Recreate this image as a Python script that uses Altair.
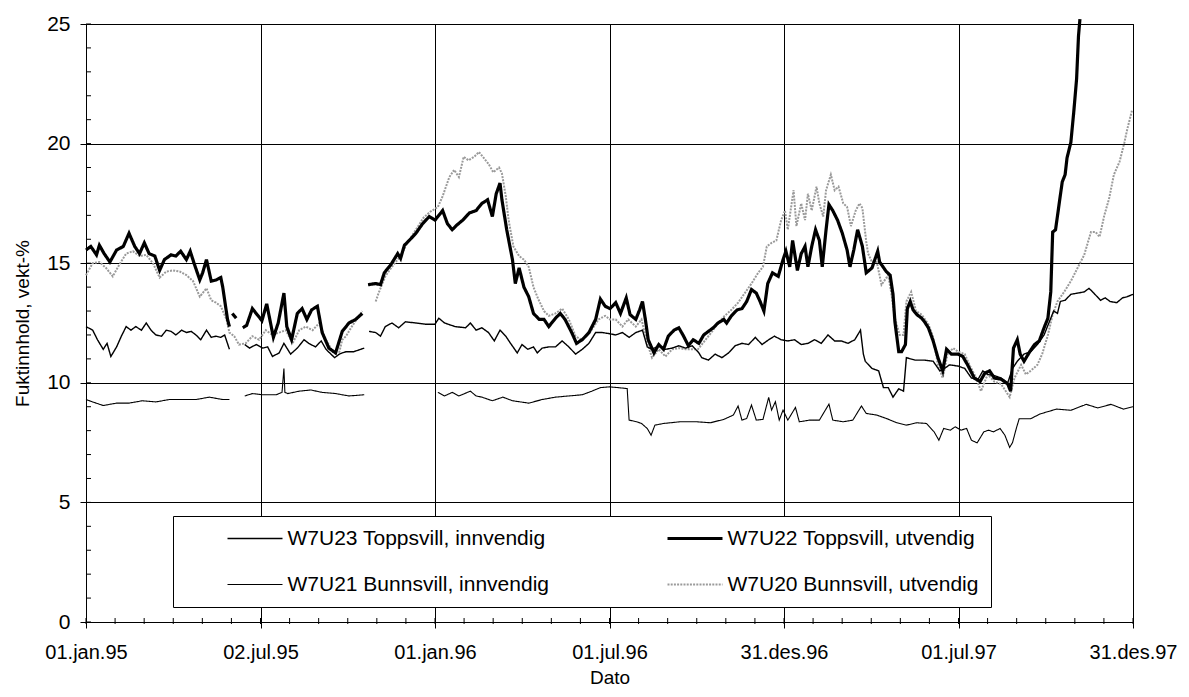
import json
import altair as alt
import pandas as pd

FONT = "Liberation Sans"
START = pd.Timestamp("1995-01-01", tz="UTC")

# ---------------- data (days after 01.jan.95, None = gap) ----------------
series_names = [
    "W7U23 Toppsvill, innvendig",
    "W7U22 Toppsvill, utvendig",
    "W7U21 Bunnsvill, innvendig",
    "W7U20 Bunnsvill, utvendig",
]

w7u22_days = [0, 5, 11, 14, 19, 25, 32, 39, 45, 51, 56, 61, 66, 72, 77, 82, 89, 94, 99, 105, 109, 113, 119, 122, 126,
              131, 136, 141, 143, 148, 150, 151,
              153, 157, 158,
              164, 168, 174, 179, 184, 189, 196, 201, 207, 210, 215, 221, 226, 231, 236, 242, 247, 254, 261, 268, 275,
              282, 289, 290,
              295, 303, 308, 312, 319, 326, 329, 333, 338, 345, 352, 359, 365, 373, 378, 383, 388, 394, 401, 408, 414,
              420, 425, 429, 433, 435, 440, 446, 449, 453, 458, 463, 468, 474, 479, 484, 491, 496, 501, 508, 513, 519,
              526, 533, 538, 543, 548, 554, 559, 565, 569, 575, 579, 582, 585, 588, 594, 599, 604, 609, 615, 620, 625,
              630, 635, 641, 646, 651, 656, 661, 667, 670, 675, 681, 686, 691, 696, 701, 705, 709, 713, 718, 724, 729,
              732, 736, 739, 744, 748, 752, 755, 759, 763, 767, 770, 774, 777, 781, 786, 791, 796, 799, 803, 807, 812,
              816, 822, 828, 830, 837, 841, 844, 846, 850, 853, 857, 859, 862, 865, 869, 874, 877, 881, 886, 891, 896,
              900, 905, 912, 917, 922, 929, 935, 940, 945, 950, 957, 964, 967, 970, 974, 977, 981, 987, 992, 997, 1002,
              1006, 1009, 1011, 1014, 1018, 1021, 1024, 1026, 1030, 1033, 1036, 1038, 1039.5]
w7u22_vals = [15.55, 15.7, 15.35, 15.75, 15.4, 15.05, 15.55, 15.7, 16.25, 15.7, 15.4, 15.85, 15.4, 15.3, 14.7, 15.15,
              15.35, 15.3, 15.5, 15.15, 15.5, 15.0, 14.3, 14.6, 15.15, 14.25, 14.3, 14.4, 14.0, 12.65, 12.35, None,
              12.9, 12.7, None,
              12.3, 12.4, 13.1, 12.85, 12.6, 13.3, 11.9, 12.5, 13.75, 12.35, 11.8, 12.9, 13.1, 12.65, 13.05, 13.2, 12.1,
              11.45, 11.25, 12.15, 12.5, 12.65, 12.9, None,
              14.1, 14.15, 14.1, 14.6, 14.95, 15.4, 15.2, 15.75, 15.95, 16.25, 16.65, 16.95, 16.8, 17.2, 16.65, 16.4,
              16.6, 16.8, 17.1, 17.2, 17.5, 17.65, 16.95, 17.9, 18.35, 17.65, 16.4, 15.15, 14.15, 14.8, 14.0, 13.6,
              12.9, 12.65, 12.65, 12.35, 12.7, 12.9, 12.65, 12.1, 11.65, 11.8, 12.1, 12.65, 13.5, 13.2, 13.1, 13.35,
              12.9, 13.55, 12.85, 12.65, 13.05, 13.4, 12.65, 11.8, 11.25, 11.6, 11.4, 11.95, 12.2, 12.3, 11.95, 11.55,
              11.8, 11.65, 12.0, 12.15, 12.3, 12.5, 12.65, 12.5, 12.8, 13.05, 13.1, 13.4, 13.9, 13.75, 13.4, 13.0,
              14.15, 14.6, 14.45, 15.15, 15.5, 14.85, 15.95, 14.7, 15.4, 15.7, 14.85, 15.7, 16.4, 15.95, 14.85, 16.4,
              17.45, 17.2, 16.8, 16.25, 15.55, 14.85, 15.55, 16.4, 15.7, 14.6, 14.8, 15.5, 15.05, 14.65, 14.5, 13.7,
              12.55, 11.3, 11.3, 11.6, 13.1, 13.4, 13.05, 12.85, 12.7, 12.55, 12.3, 11.75, 11.05, 10.5, 11.4, 11.2,
              11.2, 11.1, 10.75, 10.2, 10.05, 10.4, 10.5, 10.2, 10.15, 9.95, 9.65, 11.45, 11.8, 11.2, 10.9, 11.3,
              11.6, 11.75, 12.3, 12.7, 13.8, 16.3, 16.4, 17.55, 18.4, 18.7, 19.4, 20.05, 21.3, 22.7, 24.5, 25.2]

w7u20_days = [0, 7, 14, 21, 28, 35, 42, 49, 56, 63, 70, 77, 84, 91, 98, 105, 112, 119, 126, 131, 136, 141, 147, 150,
              155, 160, 167, 174, 181, 188, 195, 202, 209, 216, 223, 230, 237, 244, 251, 258, 265, 268, 272, 278, 289,
              290,
              303, 306, 313, 320, 329, 336, 345, 353, 360, 368, 373, 380, 385, 390, 395, 400, 406, 411, 416, 421, 426,
              432, 435, 439, 442, 447, 453, 458, 463, 468, 473, 479, 484, 491, 498, 505, 512, 518, 527, 536, 543, 548,
              554, 561, 567, 575, 581, 587, 592, 599, 606, 613, 620, 627, 634, 640, 647, 654, 661, 668, 675, 682, 689,
              696, 703, 708, 712, 717, 722, 727, 731, 734, 740, 743, 748, 752, 755, 759, 764, 767, 771, 774, 779, 783,
              787, 792, 796, 800, 805, 809, 812, 816, 818, 822, 827, 832, 839, 842, 846, 851, 855, 858, 863, 868, 874,
              881, 886, 891, 896, 901, 907, 912, 919, 924, 931, 936, 943, 950, 957, 966, 971, 978, 983, 988, 995, 1000,
              1006, 1011, 1016, 1023, 1030, 1037, 1044, 1051, 1056, 1060, 1065, 1070, 1075, 1081, 1086, 1089, 1094]
w7u20_vals = [14.5, 15.0, 15.05, 14.8, 14.45, 14.95, 15.4, 15.5, 15.3, 15.35, 15.0, 14.4, 14.65, 14.7, 14.65, 14.5,
              14.25, 13.6, 13.95, 13.45, 13.35, 13.2, 12.65, 12.1, 11.95, 11.6, 11.65, 11.95, 11.8, 12.2, 12.0, 12.1,
              12.2, 11.65, 12.2, 12.35, 12.2, 12.5, 11.8, 11.3, 11.3, 11.8, 11.95, 12.35, 13.0, None,
              13.4, 13.75, 14.45, 14.85, 15.3, 15.85, 16.4, 16.9, 17.15, 17.35, 17.8, 18.6, 18.9, 18.6, 19.45, 19.3,
              19.45, 19.65, 19.4, 19.15, 18.8, 19.0, 18.75, 17.8, 16.8, 15.7, 15.3, 15.15, 14.85, 14.0, 13.5, 13.0,
              12.8, 12.9, 13.1, 12.65, 11.95, 11.8, 12.1, 12.65, 12.8, 12.65, 12.65, 12.35, 12.65, 12.35, 12.65, 11.65,
              11.05, 11.4, 11.1, 11.4, 11.45, 11.4, 11.4, 11.4, 11.75, 12.1, 12.5, 12.8, 13.05, 13.35, 13.75, 14.15,
              14.6, 14.85, 15.7, 15.85, 15.95, 16.8, 17.2, 16.4, 18.05, 16.55, 17.5, 16.8, 17.9, 17.2, 18.2, 17.5,
              16.95, 18.05, 18.7, 18.05, 18.2, 17.5, 17.35, 16.55, 17.2, 17.5, 17.3, 15.9, 15.4, 15.05, 15.05, 14.1,
              14.5, 13.8, 12.7, 12.0, 12.0, 13.4, 13.8, 13.0, 12.85, 12.45, 11.9, 10.75, 10.2, 11.2, 11.45, 11.3, 11.2,
              10.75, 10.2, 9.65, 10.35, 10.05, 9.95, 9.4, 10.2, 10.75, 10.35, 10.5, 10.75, 11.2, 12.0, 12.85, 13.4,
              13.8, 14.25, 14.8, 15.35, 16.3, 16.3, 16.1, 17.0, 17.7, 18.7, 19.25, 20.05, 20.6, 21.4]

w7u23_days = [0, 7, 12, 18, 22, 26, 32, 37, 42, 47, 52, 58, 63, 68, 73, 79, 84, 89, 94, 100, 105, 110, 115, 120, 126,
              131, 136, 141, 145, 150, 151,
              166, 171, 178, 185, 190, 195, 202, 207, 214, 221, 228, 233, 240, 246, 251, 260, 265, 268, 272, 280, 291,
              292,
              296, 303, 308, 313, 320, 327, 334, 345, 355, 365, 369, 375, 386, 397, 402, 408, 414, 421, 427, 433, 439,
              444, 451, 456, 462, 468, 472, 477, 484, 491, 498, 505, 512, 519, 526, 533, 540, 548, 554, 561, 568, 575,
              582, 587, 592, 599, 606, 613, 620, 627, 634, 641, 644, 651, 658, 665, 672, 679, 686, 693, 700, 707, 714,
              720, 727, 734, 741, 748, 755, 762, 769, 776, 783, 790, 797, 804, 810, 813, 815, 822, 829, 834, 839, 844,
              850, 855, 858, 867, 877, 886, 893, 898, 903, 912, 919, 926, 933, 938, 943, 950, 957, 964, 969, 974, 981,
              988, 995, 1002, 1009, 1012, 1016, 1019, 1024, 1030, 1037, 1044, 1049, 1054, 1061, 1066, 1071, 1078, 1084,
              1089, 1095]
w7u23_vals = [12.35, 12.2, 11.8, 11.4, 11.65, 11.1, 11.5, 11.95, 12.35, 12.2, 12.35, 12.2, 12.5, 12.2, 12.0, 11.95,
              12.2, 12.15, 12.0, 12.2, 12.1, 12.15, 12.0, 11.8, 12.2, 11.9, 11.95, 11.9, 12.0, 11.4, None,
              11.6, 11.45, 11.6, 11.45, 11.5, 11.1, 11.25, 11.65, 11.2, 11.45, 11.8, 11.65, 11.5, 11.75, 11.4, 11.05,
              11.2, 11.25, 11.3, 11.3, 11.45, None,
              12.15, 12.1, 11.95, 12.35, 12.5, 12.3, 12.55, 12.5, 12.45, 12.45, 12.7, 12.5, 12.35, 12.3, 12.5, 12.2,
              12.3, 12.1, 11.75, 12.2, 11.95, 11.65, 11.25, 11.6, 11.4, 11.5, 11.25, 11.45, 11.5, 11.5, 11.75, 11.5,
              11.2, 11.4, 11.65, 12.1, 12.1, 12.05, 12.0, 12.1, 11.9, 12.1, 12.2, 11.5, 11.4, 11.55, 11.4, 11.45, 11.55,
              11.45, 11.55, 11.25, 11.05, 10.95, 11.2, 11.05, 11.25, 11.55, 11.65, 11.6, 11.9, 11.6, 11.8, 11.95, 11.8,
              11.75, 11.8, 11.6, 11.65, 11.8, 11.65, 12.0, 11.75, 11.75, 11.65, 11.8, 12.2, 11.2, 10.9, 10.6, 10.5,
              9.8, 9.8, 9.4, 9.75, 9.65, 11.05, 10.95, 10.95, 10.9, 10.5, 10.6, 10.75, 10.7, 10.6, 10.2, 10.15, 10.5,
              10.35, 10.3, 10.2, 10.0, 10.6, 10.9, 11.2, 11.3, 11.6, 12.0, 12.7, 13.0, 12.9, 13.4, 13.45, 13.7, 13.75,
              13.8, 13.95, 13.75, 13.45, 13.55, 13.4, 13.35, 13.55, 13.6, 13.7]

w7u21_days = [0, 7, 18, 32, 45, 59, 73, 87, 101, 115, 129, 143, 150, 151,
              166, 174, 185, 199, 205, 207, 208, 211, 223, 235, 247, 261, 275, 291, 292,
              368, 375, 383, 390, 402, 408, 414, 425, 436, 446, 463, 477, 491, 505, 519, 529, 538, 548, 566, 568, 576,
              581, 587, 591, 595, 604, 621, 639, 653, 667, 677, 682, 686, 691, 696, 701, 708, 714, 717, 721, 725, 729,
              734, 742, 746, 757, 767, 777, 781, 792, 802, 811, 816, 827, 837, 848, 858, 869, 879, 887, 892, 897, 904,
              909, 915, 921, 926, 932, 939, 944, 949, 956, 961, 966, 969, 973, 976, 988, 998, 1015, 1030, 1046, 1058,
              1072, 1085, 1095]
w7u21_vals = [9.3, 9.2, 9.05, 9.15, 9.15, 9.25, 9.2, 9.3, 9.3, 9.3, 9.4, 9.3, 9.3, None,
              9.45, 9.55, 9.5, 9.5, 9.6, 10.6, 9.6, 9.55, 9.65, 9.7, 9.6, 9.55, 9.45, 9.5, None,
              9.6, 9.45, 9.6, 9.45, 9.65, 9.45, 9.4, 9.25, 9.4, 9.25, 9.15, 9.3, 9.4, 9.45, 9.5, 9.65, 9.8, 9.83, 9.76,
              8.44, 8.37, 8.3, 8.09, 7.81, 8.23, 8.3, 8.37, 8.37, 8.33, 8.47, 8.65, 9.03, 8.44, 8.51, 9.07, 8.44, 8.47,
              9.39, 8.86, 9.21, 8.44, 8.86, 8.44, 8.97, 8.37, 8.44, 8.44, 9.11, 8.44, 8.37, 8.44, 9.03, 8.72, 8.65,
              8.51, 8.33, 8.23, 8.33, 8.3, 7.95, 7.6, 8.09, 8.02, 8.16, 8.02, 8.09, 7.6, 7.49, 7.95, 8.02, 7.95, 8.09,
              7.81, 7.3, 7.5, 8.1, 8.5, 8.5, 8.7, 8.9, 8.85, 9.1, 8.95, 9.1, 8.9, 9.0]

month_names = ["jan", "feb", "mar", "apr", "mai", "jun", "jul", "aug", "sep", "okt", "nov", "des"]
major_tick_days = [0, 182.5, 365, 547.5, 730, 912.5, 1095]
y_tick_values = [0, 5, 10, 15, 20, 25]


def ms(d):
    return int((START + pd.Timedelta(days=d)).value // 10**6)


# ---------------- table ----------------
rows = []
draw_order = [
    (series_names[3], w7u20_days, w7u20_vals),
    (series_names[1], w7u22_days, w7u22_vals),
    (series_names[0], w7u23_days, w7u23_vals),
    (series_names[2], w7u21_days, w7u21_vals),
]
for name, days, vals in draw_order:
    seg = 0
    for d, v in zip(days, vals):
        if v is None:
            seg += 1
            continue
        rows.append({"t": ms(d), "v": v, "series": name, "seg": f"{name}#{seg}"})
df = pd.DataFrame(rows)

W, H = 1047, 598
x_scale = alt.Scale(type="utc", domain=[ms(0), ms(1095)], nice=False)
y_scale = alt.Scale(domain=[0, 25], nice=False, zero=False)

label_expr = ("utcFormat(datum.value, '%d') + '.' + " + json.dumps(month_names)
              + "[utcmonth(datum.value)] + '.' + utcFormat(datum.value, '%y')")

x_axis = alt.Axis(
    title="Dato", values=[ms(d) for d in major_tick_days], labelExpr=label_expr,
    labelFlush=False, labelOverlap=False, labelPadding=14, tickSize=6, labelFontSize=20,
    titlePadding=6, grid=True)
y_axis = alt.Axis(
    title="Fuktinnhold, vekt-%", values=y_tick_values, format="d",
    labelPadding=10, tickSize=6, titlePadding=14, grid=True)

legend = alt.Legend(
    title=" ", titleOrient="left", titlePadding=40, titleFontSize=4,
    orient="none", legendX=87, legendY=492, columns=2, direction="horizontal",
    symbolType="stroke", symbolSize=3025, clipHeight=20,
    labelFont=FONT, labelFontSize=21, labelColor="black", labelOffset=3, labelLimit=400,
    columnPadding=116, rowPadding=25, padding=12.5,
    strokeColor="black", fillColor="white",
)

lines = alt.Chart(df).mark_line(clip=False).encode(
    x=alt.X("t:T", scale=x_scale, axis=x_axis),
    y=alt.Y("v:Q", scale=y_scale, axis=y_axis),
    color=alt.Color("series:N", scale=alt.Scale(domain=series_names,
                    range=["black", "black", "black", "#9a9a9a"]), legend=legend),
    strokeWidth=alt.StrokeWidth("series:N", scale=alt.Scale(type="ordinal", domain=series_names,
                                range=[1.4, 3.2, 1.1, 2.0]), legend=legend),
    strokeDash=alt.StrokeDash("series:N", scale=alt.Scale(type="ordinal", domain=series_names,
                              range=[[1, 0], [1, 0], [1, 0], [2, 1.2]]), legend=legend),
    detail="seg:N",
)

# minor ticks (axis decoration)
minor_x = pd.DataFrame({"t": [ms(i * 182.5 / 6) for i in range(37)], "v": 0})
minor_y = pd.DataFrame({"v": list(range(26)), "t": ms(0)})

xminor = alt.Chart(minor_x).mark_rule(color="black", strokeWidth=1, yOffset=-4, y2Offset=2).encode(
    x=alt.X("t:T", scale=x_scale, axis=x_axis), y=alt.Y("v:Q", scale=y_scale, axis=y_axis), y2="v")
yminor = alt.Chart(minor_y).mark_rule(color="black", strokeWidth=1, x2Offset=5).encode(
    x=alt.X("t:T", scale=x_scale, axis=x_axis), x2="t", y=alt.Y("v:Q", scale=y_scale, axis=y_axis))

chart = alt.layer(lines, xminor, yminor).properties(
    width=W, height=H,
    autosize=alt.AutoSizeParams(type="none"),
    padding={"left": 78, "top": 16, "right": 46, "bottom": 70},
).configure(font=FONT).configure_view(stroke="black", strokeWidth=1).configure_axis(
    labelFont=FONT, labelFontSize=21, labelColor="black",
    titleFont=FONT, titleFontSize=19, titleFontWeight="normal", titleColor="black",
    domainColor="black", tickColor="black", gridColor="black", gridOpacity=1, gridWidth=1,
)

chart.save("out.html", embed_options={"renderer": "svg", "actions": False})
